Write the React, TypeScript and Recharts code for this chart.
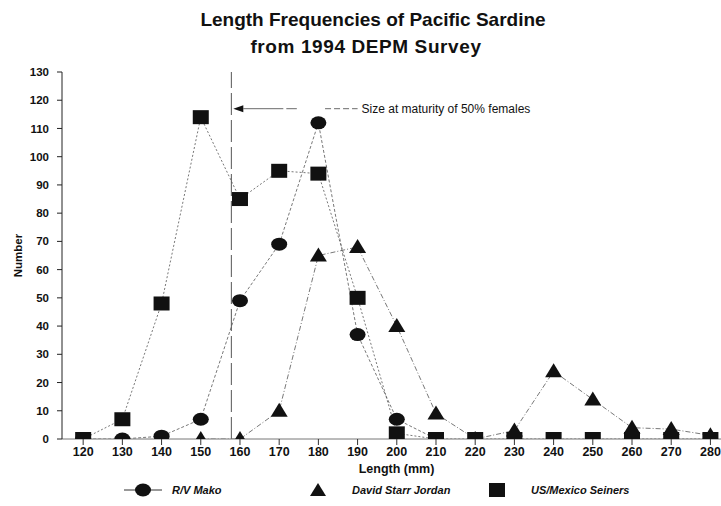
import React from 'react';
import { LineChart, Line, XAxis, YAxis, ReferenceLine, Customized } from 'recharts';

const lengths = [120, 130, 140, 150, 160, 170, 180, 190, 200, 210, 220, 230, 240, 250, 260, 270, 280];
const mako = [0, 0, 1, 7, 49, 69, 112, 37, 7, 0, null, null, null, null, null, null, null];
const jordan = [null, null, null, 0, 0, 10, 65, 68, 40, 9, 0, 3, 24, 14, 4, 3.5, 1.3];
const seiners = [0, 7, 48, 114, 85, 95, 94, 50, 2, 0, 0, 0, 0, 0, 0, 0, 0];
const xTicks = lengths;
const yTicks = [0, 10, 20, 30, 40, 50, 60, 70, 80, 90, 100, 110, 120, 130];
const maturityLength = 157.8;
const annotationY = 117;
const annotationText = 'Size at maturity of 50% females';
const titleLines = ['Length Frequencies of Pacific Sardine', 'from 1994 DEPM Survey'];
const seriesNames = ['R/V Mako', 'David Starr Jordan', 'US/Mexico Seiners'];

const data = lengths.map((len, i) => ({ len, mako: mako[i], jordan: jordan[i], seiners: seiners[i] }));

const CHART_W = 721;
const CHART_H = 506;
const MARGIN_TOP = 72;
const Y_AXIS_W = 62;
const X_AXIS_H = 67;

const FONT = '"Liberation Sans", Arial, Helvetica, sans-serif';
const INK = '#111';
const CLIP = 'url(#plotClipArea)';

const Square = (p: any) => {
  if (p.cx == null || p.cy == null || p.value == null) return <g key={p.key} />;
  return <g key={p.key} clipPath={CLIP}><rect x={p.cx - 8} y={p.cy - 7} width={16} height={14} fill={INK} /></g>;
};
const Ellipse = (p: any) => {
  if (p.cx == null || p.cy == null || p.value == null) return <g key={p.key} />;
  return <g key={p.key} clipPath={CLIP}><ellipse cx={p.cx} cy={p.cy} rx={8} ry={6.5} fill={INK} /></g>;
};
const Triangle = (p: any) => {
  if (p.cx == null || p.cy == null || p.value == null) return <g key={p.key} />;
  return (
    <g key={p.key} clipPath={CLIP}>
      <polygon points={`${p.cx},${p.cy - 8} ${p.cx - 8.5},${p.cy + 6} ${p.cx + 8.5},${p.cy + 6}`} fill={INK} />
    </g>
  );
};

const ArrowLine = (p: any) => {
  const { x1, y1, x2, y2 } = p;
  return (
    <g>
      <line x1={x1 + 10} y1={y1} x2={x2} y2={y2} stroke="#444" strokeWidth={0.8} strokeDasharray="40 3" />
      <polygon points={`${x1},${y1} ${x1 + 10},${y1 - 3.5} ${x1 + 10},${y1 + 3.5}`} fill={INK} />
    </g>
  );
};

const ClipDefs = () => (
  <defs>
    <clipPath id="plotClipArea">
      <rect x={Y_AXIS_W} y={MARGIN_TOP} width={CHART_W - Y_AXIS_W} height={CHART_H - MARGIN_TOP - X_AXIS_H} />
    </clipPath>
  </defs>
);

const Titles = () => (
  <g fontFamily={FONT} fontWeight="bold" fill={INK}>
    <text x={373} y={26} textAnchor="middle" fontSize={19}>{titleLines[0]}</text>
    <text x={366} y={53} textAnchor="middle" fontSize={19} letterSpacing={0.6}>{titleLines[1]}</text>
  </g>
);

const LegendRow = () => (
  <g fontFamily={FONT} fontWeight="bold" fontStyle="italic" fontSize={11} fill={INK}>
    <line x1={124} y1={490} x2={162} y2={490} stroke="#333" strokeWidth={1} />
    <ellipse cx={143} cy={490} rx={8} ry={6.5} fill={INK} />
    <text x={172} y={494}>{seriesNames[0]}</text>
    <polygon points={`318,483 310,496 326,496`} fill={INK} />
    <text x={352} y={494}>{seriesNames[1]}</text>
    <rect x={489} y={483} width={16} height={14} fill={INK} />
    <text x={531} y={494}>{seriesNames[2]}</text>
  </g>
);

export default function App() {
  return (
    <div style={{ position: 'absolute', left: 0, top: 0, width: CHART_W, height: CHART_H, background: '#fff' }}>
      <LineChart width={CHART_W} height={CHART_H} data={data} margin={{ top: MARGIN_TOP, right: 0, bottom: 0, left: 0 }}>
        <Customized component={ClipDefs} />
        <XAxis
          dataKey="len"
          type="number"
          domain={[114.6, 282.7]}
          allowDataOverflow
          ticks={xTicks}
          interval={0}
          tickSize={6}
          tickMargin={2}
          height={X_AXIS_H}
          stroke="#777"
          tickLine={{ stroke: '#333' }}
          tick={{ fill: INK, fontSize: 12.5, fontWeight: 'bold', fontFamily: FONT }}
          label={{ value: 'Length (mm)', position: 'insideTop', offset: 25, dx: 5, fill: INK, fontSize: 12.5, fontWeight: 'bold', fontFamily: FONT }}
        />
        <YAxis
          type="number"
          domain={[0, 130]}
          allowDataOverflow
          ticks={yTicks}
          interval={0}
          width={Y_AXIS_W}
          tickSize={5}
          tickMargin={8}
          stroke="#222"
          tick={{ fill: INK, fontSize: 11.5, fontWeight: 'bold', fontFamily: FONT }}
          label={{ value: 'Number', angle: -90, position: 'insideLeft', offset: 18, style: { textAnchor: 'middle' }, fill: INK, fontSize: 11.5, fontWeight: 'bold', fontFamily: FONT }}
        />
        <ReferenceLine x={maturityLength} stroke="#555" strokeWidth={1} strokeDasharray="22 5" ifOverflow="extendDomain" />
        <Line dataKey="mako" isAnimationActive={false} stroke="#555" strokeWidth={0.8} strokeDasharray="3 2" dot={Ellipse} activeDot={false} />
        <Line dataKey="jordan" isAnimationActive={false} stroke="#555" strokeWidth={0.8} strokeDasharray="5 2 1 2" dot={Triangle} activeDot={false} />
        <Line dataKey="seiners" isAnimationActive={false} stroke="#555" strokeWidth={0.8} strokeDasharray="2 2" dot={Square} activeDot={false} />
        <ReferenceLine segment={[{ x: 158.3, y: annotationY }, { x: 174.5, y: annotationY }]} shape={ArrowLine} />
        <ReferenceLine
          segment={[{ x: 181.7, y: annotationY }, { x: 190, y: annotationY }]}
          stroke="#444"
          strokeWidth={0.8}
          strokeDasharray="6 3"
          label={{ value: annotationText, position: 'right', offset: 4, fill: INK, fontSize: 12, fontFamily: FONT }}
        />
        <Customized component={Titles} />
        <Customized component={LegendRow} />
      </LineChart>
    </div>
  );
}
